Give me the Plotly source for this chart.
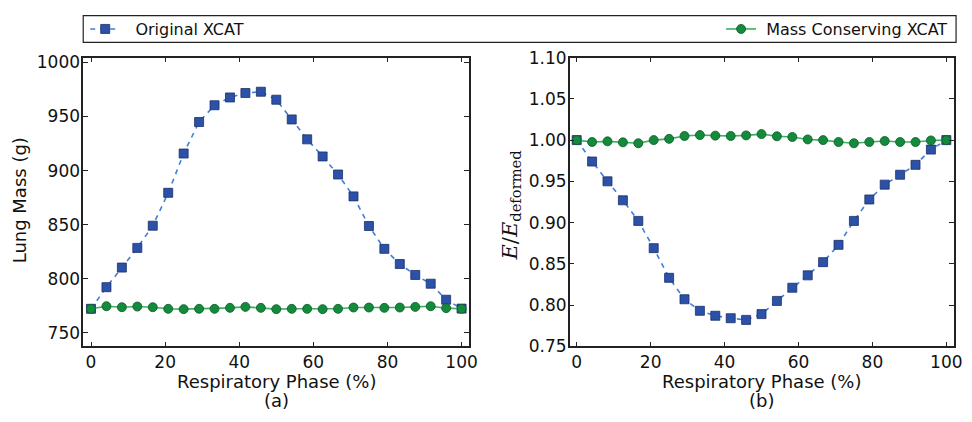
import plotly.graph_objects as go

# Respiratory phase sampling (25 phases across one breathing cycle)
phase = [i * 100 / 24 for i in range(25)]

# Panel (a): lung mass in grams
mass_original = [772.3, 792.3, 810.4, 828.6, 849.1, 879.5, 915.8, 944.9, 960.4,
                 967.6, 971.7, 972.9, 965.5, 947.3, 928.9, 913.1, 896.4, 876.2,
                 848.8, 827.7, 813.7, 803.6, 795.5, 780.7, 772.5]
mass_conserving = [772.3, 774.7, 773.8, 774.4, 773.8, 772.3, 772.0, 772.3, 772.3,
                   773.2, 774.1, 773.2, 772.0, 772.3, 772.3, 772.0, 772.3, 773.5,
                   773.5, 773.2, 773.5, 774.1, 774.7, 772.9, 772.3]

# Panel (b): normalised energy ratio
ratio_original = [1.000, 0.974, 0.950, 0.927, 0.902, 0.869, 0.833, 0.807, 0.793,
                  0.787, 0.784, 0.782, 0.789, 0.805, 0.821, 0.836, 0.852, 0.873,
                  0.902, 0.928, 0.946, 0.958, 0.970, 0.9885, 1.000]
ratio_conserving = [1.000, 0.9977, 0.9985, 0.9973, 0.9962, 1.000, 1.0015, 1.0050,
                    1.0061, 1.0054, 1.0050, 1.0057, 1.0073, 1.0046, 1.0038, 1.0008,
                    1.000, 0.9977, 0.9962, 0.9977, 0.9989, 0.9977, 0.9977, 0.9996,
                    1.000]

x_ticks = [0, 20, 40, 60, 80, 100]
mass_ticks = [750, 800, 850, 900, 950, 1000]
ratio_ticks = [0.75, 0.80, 0.85, 0.90, 0.95, 1.00, 1.05, 1.10]

W, H = 972, 422
BLUE_LINE = "#3f7fd6"
BLUE_FACE = "#2b52a8"
BLUE_EDGE = "#1d2f6a"
GREEN_LINE = "#3fae63"
GREEN_FACE = "#138a3c"
GREEN_EDGE = "#0b5a26"
FRAME = "#222222"
FONT = "DejaVu Sans"
TEXT = "#111111"

def px(x):
    return x / W

def py(y):
    return 1 - y / H

fig = go.Figure()

orig_style = dict(mode="lines+markers",
                  line=dict(color=BLUE_LINE, width=1.6, dash="5px,5px"),
                  marker=dict(symbol="square", size=9, color=BLUE_FACE,
                              line=dict(color=BLUE_EDGE, width=0.8)))
cons_style = dict(mode="lines+markers",
                  line=dict(color=GREEN_LINE, width=1.6),
                  marker=dict(symbol="circle", size=9, color=GREEN_FACE,
                              line=dict(color=GREEN_EDGE, width=0.8)))

fig.add_trace(go.Scatter(x=phase, y=mass_original,
                         name="\u00a0\u00a0Original XCAT",
                         xaxis="x", yaxis="y", legend="legend",
                         **orig_style))
fig.add_trace(go.Scatter(x=phase, y=mass_conserving, name="Mass Conserving XCAT",
                         xaxis="x", yaxis="y", showlegend=False, **cons_style))
fig.add_trace(go.Scatter(x=phase, y=ratio_original, name="Original XCAT",
                         xaxis="x2", yaxis="y2", showlegend=False, **orig_style))
fig.add_trace(go.Scatter(x=phase, y=ratio_conserving,
                         name="\u00a0Mass Conserving XCAT",
                         xaxis="x2", yaxis="y2", legend="legend2", **cons_style))

axis_common = dict(showgrid=False, zeroline=False, showline=True, linecolor=FRAME,
                   linewidth=1.5, mirror="ticks", ticks="inside", ticklen=5,
                   tickcolor=FRAME, tickwidth=1,
                   tickfont=dict(family=FONT, size=17, color=TEXT))
y_extra = dict(ticklabelstandoff=-2)

y_dom = [py(353), py(50)]

fig.update_layout(
    width=W, height=H,
    margin=dict(l=0, r=0, t=0, b=0),
    paper_bgcolor="white", plot_bgcolor="white",
    xaxis=dict(domain=[px(84), px(473)], range=[-2.1, 101.9], tickvals=x_ticks,
               anchor="y", **axis_common),
    yaxis=dict(domain=y_dom, range=[737.7, 1004.4], tickvals=mass_ticks,
               anchor="x", **axis_common, **y_extra),
    xaxis2=dict(domain=[px(575), px(963)], range=[-1.9, 102.1], tickvals=x_ticks,
                anchor="y2", **axis_common),
    yaxis2=dict(domain=y_dom, range=[0.75, 1.10], tickvals=ratio_ticks,
                tickformat=".2f", anchor="x2", **axis_common, **y_extra),
    legend=dict(x=px(86), xanchor="left", y=py(20), yanchor="middle",
                bgcolor="rgba(0,0,0,0)", borderwidth=0,
                font=dict(family=FONT, size=16, color=TEXT)),
    legend2=dict(x=px(962), xanchor="right", y=py(20), yanchor="middle",
                 bgcolor="rgba(0,0,0,0)", borderwidth=0,
                 font=dict(family=FONT, size=16, color=TEXT)),
    shapes=[dict(type="rect", xref="paper", yref="paper",
                 x0=px(84), x1=px(965), y0=py(34), y1=py(6),
                 line=dict(color=FRAME, width=1.2), fillcolor="rgba(0,0,0,0)")],
)

label_font = dict(family=FONT, size=18, color=TEXT)
annotations = [
    dict(text="Respiratory Phase (%)", x=px(279), y=py(390)),
    dict(text="(a)", x=px(279), y=py(410)),
    dict(text="Respiratory Phase (%)", x=px(769), y=py(390)),
    dict(text="(b)", x=px(769), y=py(410)),
]
for a in annotations:
    fig.add_annotation(xref="paper", yref="paper", showarrow=False,
                       xanchor="center", yanchor="middle", font=label_font, **a)

fig.add_annotation(text="Lung Mass (g)", xref="paper", yref="paper",
                   x=px(20), y=py(200), textangle=-90, showarrow=False,
                   xanchor="center", yanchor="middle", font=label_font)
fig.add_annotation(text="<i>E</i>/<i>E</i><sub>deformed</sub>", xref="paper",
                   yref="paper", x=px(516), y=py(205), textangle=-90,
                   showarrow=False, xanchor="center", yanchor="middle",
                   font=dict(family="DejaVu Serif", size=21, color=TEXT))

fig.write_html("out.html")
